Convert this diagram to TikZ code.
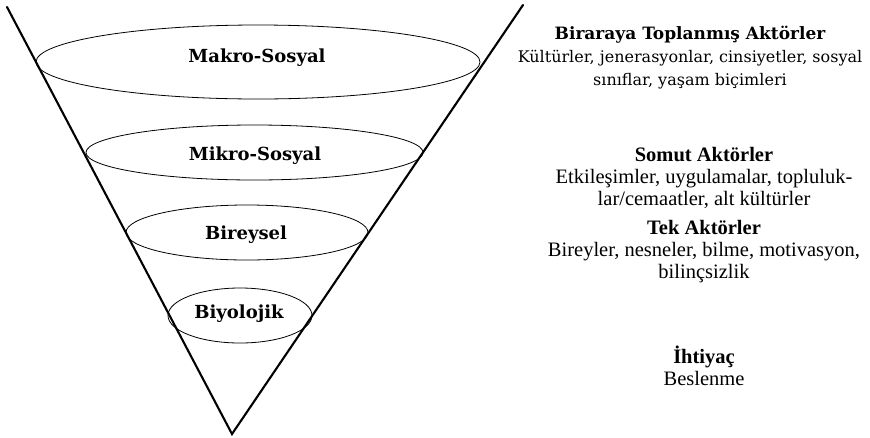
\documentclass[tikz,border=0pt]{standalone}
\usepackage{fontspec}
\setmainfont{Liberation Serif}
\newfontfamily\slabfont{DejaVu Serif}
\usetikzlibrary{
    positioning,
    shapes.geometric
}
\tikzset{
    every picture/.style = {
        x = 1pt,
        y = -1pt
    },
    cone/.style = {
        line width = 2.1pt,
        line cap = round
    },
    layer/.style = {
        ellipse,
        draw,
        line width = 0.8pt,
        inner sep = 0pt
    },
    layer text/.style = {
        anchor = base,
        inner sep = 0pt,
        font = \slabfont\bfseries\fontsize{18}{20}\selectfont
    },
    % anchor base sits on the last line
    actor/.style = {
        anchor = base,
        inner sep = 0pt,
        align = center,
        font = \fontsize{20.5}{22}\selectfont
    },
    actor top/.style = {
        anchor = base,
        inner sep = 0pt,
        align = center,
        font = \slabfont\fontsize{16}{23}\selectfont
    }
}

\begin{document}
\begin{tikzpicture}
    \useasboundingbox (0, 0) rectangle (870, 437);

    % cone
    \coordinate (apex) at (232, 434);
    \coordinate (left top) at (7, 7);
    \coordinate (right top) at (523, 5);
    \draw[cone] (left top) -- (apex) -- (right top);

    % layers
    \node[layer, minimum width = 444pt, minimum height = 74pt] (makro) at (258, 62) {};
    \node[layer, minimum width = 337pt, minimum height = 55pt] (mikro) at (254.5, 152.5) {};
    \node[layer, minimum width = 242pt, minimum height = 55pt] (bireysel) at (247, 232.5) {};
    \node[layer, minimum width = 144pt, minimum height = 55pt] (biyolojik) at (240, 315.5) {};

    \node[layer text] (makro text) at (257, 62) {Makro-Sosyal};
    \node[layer text] (mikro text) at (255, 160) {Mikro-Sosyal};
    \node[layer text] (bireysel text) at (246, 239) {Bireysel};
    \node[layer text] (biyolojik text) at (239, 318) {Biyolojik};

    % actors
    \node[actor top] (toplanmis) at (690, 85)
        {{\bfseries\fontsize{17}{23}\selectfont Biraraya Toplanmış Aktörler}\\
         Kültürler, jenerasyonlar, cinsiyetler, sosyal\\
         sınıflar, yaşam biçimleri};
    \node[actor] (somut) at (704, 205)
        {\textbf{Somut Aktörler}\\
         Etkileşimler, uygulamalar, topluluk-\\
         lar/cemaatler, alt kültürler};
    \node[actor] (tek) at (704, 278)
        {\textbf{Tek Aktörler}\\
         Bireyler, nesneler, bilme, motivasyon,\\
         bilinçsizlik};
    \node[actor] (ihtiyac) at (704, 385)
        {\textbf{İhtiyaç}\\
         Beslenme};
\end{tikzpicture}
\end{document}
